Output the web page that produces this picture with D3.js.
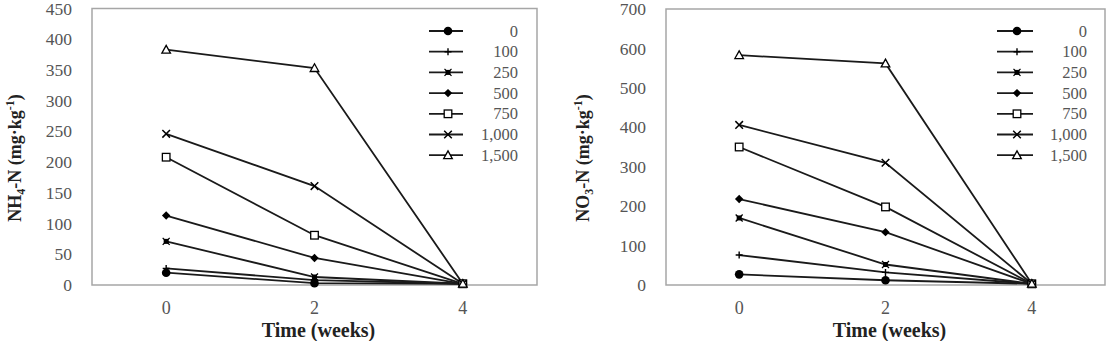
<!DOCTYPE html>
<html><head><meta charset="utf-8">
<script src="https://cdn.jsdelivr.net/npm/d3@7"></script>
<style>body{margin:0;background:#fff}svg{display:block}svg text{font-family:"Liberation Serif","Times New Roman",Times,"DejaVu Serif",serif !important}</style>
</head><body><svg id="c" width="1116" height="341"></svg>
<script>
const weeks = ["0","2","4"];
const rates = ["0","100","250","500","750","1,000","1,500"];
const nh4 = {
  "0":[20,3,2],
  "100":[27,8,2],
  "250":[71,13,2],
  "500":[113,44,2],
  "750":[208,81,2],
  "1,000":[246,161,2],
  "1,500":[383,353,2]
};
const no3 = {
  "0":[27,12,3],
  "100":[76,32,3],
  "250":[170,52,3],
  "500":[218,134,3],
  "750":[350,198,3],
  "1,000":[406,310,3],
  "1,500":[583,562,3]
};
const nh4Ticks = [0,50,100,150,200,250,300,350,400,450];
const no3Ticks = [0,100,200,300,400,500,600,700];
const markers = ["circle","plus","xsquare","diamond","square","cross","triangle"];

const svg = d3.select("#c");

function marker(g, type, x, y){
  const s = g.append("g").attr("transform",`translate(${x},${y})`);
  if(type==="circle") s.append("circle").attr("r",4.3).attr("fill","#000");
  else if(type==="plus") s.append("path").attr("d","M-3.5,0H3.5M0,-3.5V3.5").attr("stroke","#000").attr("stroke-width",1.4);
  else if(type==="xsquare"){ s.append("rect").attr("x",-2.5).attr("y",-2.5).attr("width",5).attr("height",5).attr("fill","#000");
    s.append("path").attr("d","M-3.5,-3.5L3.5,3.5M-3.5,3.5L3.5,-3.5").attr("stroke","#000").attr("stroke-width",1.3);}
  else if(type==="diamond") s.append("path").attr("d","M0,-4.2L4.2,0L0,4.2L-4.2,0Z").attr("fill","#000");
  else if(type==="square") s.append("rect").attr("x",-3.8).attr("y",-3.8).attr("width",7.6).attr("height",7.6).attr("fill","#fff").attr("stroke","#000").attr("stroke-width",1.3);
  else if(type==="cross") s.append("path").attr("d","M-3.8,-3.8L3.8,3.8M-3.8,3.8L3.8,-3.8").attr("stroke","#000").attr("stroke-width",1.5);
  else if(type==="triangle") s.append("path").attr("d","M0,-4.3L4.3,3.4L-4.3,3.4Z").attr("fill","#fff").attr("stroke","#000").attr("stroke-width",1.3);
}

function panel(cfg){
  const {left,right,top,bottom,max,ticks,data,titleX,titleParts,legX0,legX1,legMark,legLabelX} = cfg;
  const g = svg.append("g");
  const x = d3.scaleBand().domain(weeks).range([left,right]);
  const y = d3.scaleLinear().domain([0,max]).range([bottom,top]);
  g.append("rect").attr("x",left).attr("y",top).attr("width",right-left).attr("height",bottom-top)
    .attr("fill","none").attr("stroke","#a6a6a6").attr("stroke-width",1.5);
  const ya = g.append("g").attr("transform",`translate(${left},0)`)
    .call(d3.axisLeft(y).tickValues(ticks).tickSize(0).tickPadding(20));
  ya.select(".domain").remove();
  ya.selectAll("text").attr("font-size",17.5).attr("fill","#555");
  const xa = g.append("g").attr("transform",`translate(0,${bottom})`)
    .call(d3.axisBottom(x).tickSize(0).tickPadding(16));
  xa.select(".domain").remove();
  xa.selectAll("text").attr("font-size",18).attr("fill","#555");
  const line = d3.line().x((d,i)=>x(weeks[i])+x.bandwidth()/2).y(d=>y(d));
  rates.forEach(r=>{
    g.append("path").attr("d",line(data[r])).attr("fill","none").attr("stroke","#1a1a1a").attr("stroke-width",1.8);
  });
  rates.forEach((r,k)=>{
    data[r].forEach((v,i)=>marker(g,markers[k],x(weeks[i])+x.bandwidth()/2,y(v)));
  });
  rates.forEach((r,k)=>{
    const yy = 31 + k*20.7;
    g.append("line").attr("x1",legX0).attr("x2",legX1).attr("y1",yy).attr("y2",yy).attr("stroke","#1a1a1a").attr("stroke-width",1.8);
    marker(g,markers[k],legMark,yy);
    g.append("text").attr("x",legLabelX).attr("y",yy+5.5).attr("text-anchor","end").attr("font-size",16.5).attr("fill","#555").text(r);
  });
  g.append("text").attr("x",(left+right)/2+4).attr("y",337).attr("text-anchor","middle")
    .attr("font-size",20).attr("font-weight","bold").attr("fill","#222").text("Time (weeks)");
  const t = g.append("text").attr("transform",`translate(${titleX},158) rotate(-90)`)
    .attr("text-anchor","middle").attr("font-size",18).attr("font-weight","bold").attr("fill","#222");
  titleParts.forEach(p=>{
    const ts = t.append("tspan").text(p.t);
    if(p.sub){ ts.attr("font-size",12).attr("dy",4); }
    else if(p.sup){ ts.attr("font-size",12).attr("dy",-7); }
    if(p.reset) ts.attr("dy",p.reset);
  });
}

panel({left:92,right:537,top:8.5,bottom:285,max:450,ticks:nh4Ticks,data:nh4,titleX:21,
  titleParts:[{t:"NH"},{t:"4",sub:true},{t:"-N (mg·kg",reset:-4},{t:"-1",sup:true},{t:")",reset:7}],
  legX0:429,legX1:463,legMark:448,legLabelX:518});
panel({left:666,right:1105,top:9,bottom:285,max:700,ticks:no3Ticks,data:no3,titleX:589,
  titleParts:[{t:"NO"},{t:"3",sub:true},{t:"-N (mg·kg",reset:-4},{t:"-1",sup:true},{t:")",reset:7}],
  legX0:997,legX1:1033,legMark:1017,legLabelX:1087});
</script></body></html>
